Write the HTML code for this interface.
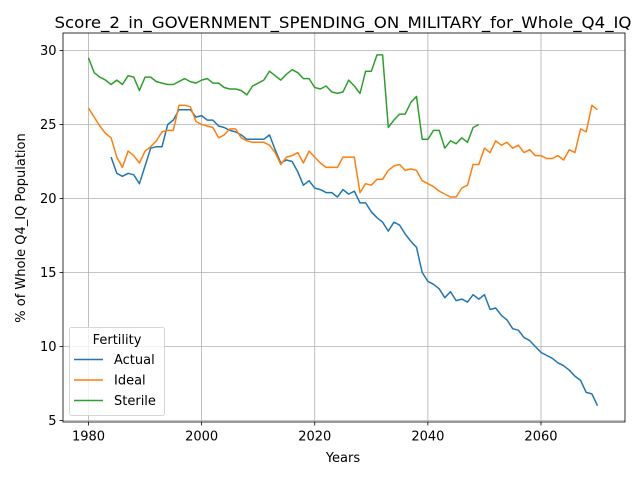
<!DOCTYPE html>
<html><head><meta charset="utf-8"><style>
body{margin:0;background:#fff;}
svg{font-family:"DejaVu Sans","Liberation Sans",sans-serif;}
</style></head><body>
<svg id="chart" width="640" height="480">
<rect width="640" height="480" fill="#fff"/>
<g id="grid"></g><g id="series"></g><g id="axes"></g>
</svg>
<script>
const actualStart = 1984;
const actualValues = [22.8,21.7,21.5,21.7,21.6,21.0,22.2,23.4,23.5,23.5,25.0,25.3,26.0,26.0,26.0,25.5,25.6,25.3,25.3,24.9,24.8,24.6,24.5,24.3,24.0,24.0,24.0,24.0,24.3,23.3,22.4,22.6,22.5,21.8,20.9,21.2,20.7,20.6,20.4,20.4,20.1,20.6,20.3,20.5,19.7,19.7,19.1,18.7,18.4,17.8,18.4,18.2,17.6,17.1,16.7,15.0,14.4,14.2,13.9,13.3,13.7,13.1,13.2,13.0,13.5,13.2,13.5,12.5,12.6,12.1,11.8,11.2,11.1,10.6,10.4,10.0,9.6,9.4,9.2,8.9,8.7,8.4,8.0,7.7,6.9,6.8,6.0];
const idealStart = 1980;
const idealValues = [26.1,25.5,24.9,24.4,24.1,22.8,22.1,23.2,22.9,22.4,23.2,23.5,23.9,24.5,24.6,24.6,26.3,26.3,26.2,25.2,25.0,24.9,24.8,24.1,24.3,24.7,24.7,24.1,23.9,23.8,23.8,23.8,23.6,23.1,22.3,22.8,22.9,23.1,22.4,23.2,22.8,22.4,22.1,22.1,22.1,22.8,22.8,22.8,20.4,21.0,20.9,21.3,21.3,21.9,22.2,22.3,21.9,22.0,21.9,21.2,21.0,20.8,20.5,20.3,20.1,20.1,20.7,20.9,22.3,22.3,23.4,23.1,23.9,23.6,23.8,23.4,23.6,23.1,23.3,22.9,22.9,22.7,22.7,22.9,22.6,23.3,23.1,24.7,24.5,26.3,26.0];
const sterileStart = 1980;
const sterileValues = [29.5,28.5,28.2,28.0,27.7,28.0,27.7,28.3,28.2,27.3,28.2,28.2,27.9,27.8,27.7,27.7,27.9,28.1,27.9,27.8,28.0,28.1,27.8,27.8,27.5,27.4,27.4,27.3,27.0,27.6,27.8,28.0,28.6,28.3,28.0,28.4,28.7,28.5,28.1,28.1,27.5,27.4,27.6,27.2,27.1,27.2,28.0,27.6,27.1,28.6,28.6,29.7,29.7,24.8,25.3,25.7,25.7,26.5,26.9,24.0,24.0,24.6,24.6,23.4,23.9,23.7,24.1,23.8,24.8,25.0];
const xTicks = [1980,2000,2020,2040,2060];
const yTicks = [5,10,15,20,25,30];
const seriesNames = ["Actual","Ideal","Sterile"];
const colors = ["#1f77b4","#ff7f0e","#2ca02c"];

const L=63,R=625,T=33,B=422;
const xs = yr => 88.5 + (yr-1980)*5.656;
const ys = v => 420.5 - (v-5)*14.8;
const NS="http://www.w3.org/2000/svg";
function mk(tag, attrs, parent){const e=document.createElementNS(NS,tag);for(const k in attrs)e.setAttribute(k,attrs[k]);parent.appendChild(e);return e;}
const grid=document.getElementById('grid'), ser=document.getElementById('series'), ax=document.getElementById('axes');

xTicks.forEach(t=>{
  const g=mk('line',{x1:xs(t),x2:xs(t),y1:T,y2:B,stroke:'#b0b0b0','stroke-width':0.8},grid);
  
  
  mk('line',{x1:xs(t),x2:xs(t),y1:B,y2:B+3.5,stroke:'#000','stroke-width':0.8},ax);
  const tx=mk('text',{x:xs(t),y:B+18.5,'font-size':13,'text-anchor':'middle',fill:'#000'},ax);
  tx.textContent=t;
  
  
});
yTicks.forEach(t=>{
  const g=mk('line',{x1:L,x2:R,y1:ys(t),y2:ys(t),stroke:'#b0b0b0','stroke-width':0.8},grid);
  
  
  mk('line',{x1:L-3.5,x2:L,y1:ys(t),y2:ys(t),stroke:'#000','stroke-width':0.8},ax);
  const tx=mk('text',{x:L-6.5,y:ys(t)+4.5,'font-size':13,'text-anchor':'end',fill:'#000'},ax);
  tx.textContent=t;
  
  
});

[[actualStart,actualValues,'actual-line'],[idealStart,idealValues,'ideal-line'],[sterileStart,sterileValues,'sterile-line']].forEach((s,i)=>{
  const pts=s[1].map((v,j)=>xs(s[0]+j).toFixed(1)+','+ys(v).toFixed(1)).join(' ');
  const p=mk('polyline',{points:pts,fill:'none',stroke:colors[i],'stroke-width':1.5,'stroke-linejoin':'round'},ser);
  
  
});

const frame=mk('rect',{x:L,y:T,width:R-L,height:B-T,fill:'none',stroke:'#000','stroke-width':0.8},ax);



const title=mk('text',{x:343,y:28,'font-size':16,'text-anchor':'middle',fill:'#000',textLength:577,lengthAdjust:'spacingAndGlyphs'},ax);
title.textContent='Score_2_in_GOVERNMENT_SPENDING_ON_MILITARY_for_Whole_Q4_IQ';


const xl=mk('text',{x:343,y:462,'font-size':13,'text-anchor':'middle',fill:'#000'},ax);
xl.textContent='Years';


const yl=mk('text',{x:0,y:0,'font-size':13,'text-anchor':'middle',fill:'#000',transform:'translate(25,228) rotate(-90)'},ax);
yl.textContent='% of Whole Q4_IQ Population';



const lg=mk('g',{},ax);


mk('rect',{x:69.5,y:327.5,width:95,height:88,rx:2,fill:'#fff','fill-opacity':0.8,stroke:'#cccccc','stroke-width':0.8},lg);
const lt=mk('text',{x:117,y:344,'font-size':13,'text-anchor':'middle',fill:'#000'},lg);
lt.textContent='Fertility';


seriesNames.forEach((n,i)=>{
  const y=359.5+i*20.5;
  const e=mk('g',{},lg);
  
  
  mk('line',{x1:74,x2:103,y1:y,y2:y,stroke:colors[i],'stroke-width':1.5},e);
  const t=mk('text',{x:114,y:y+4.5,'font-size':13,fill:'#000'},e);
  t.textContent=n;
});
</script>
</body></html>
